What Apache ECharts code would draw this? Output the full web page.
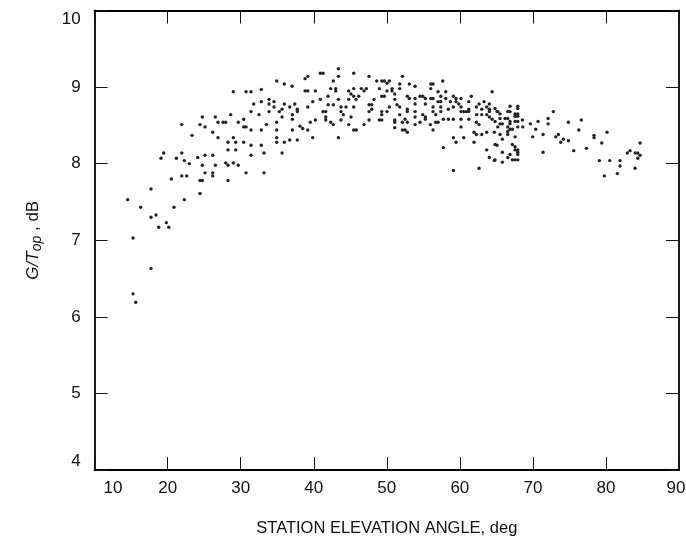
<!DOCTYPE html>
<html>
<head>
<meta charset="utf-8">
<script src="https://cdn.jsdelivr.net/npm/echarts@6/dist/echarts.min.js"></script>
<style>
html,body{margin:0;padding:0;background:#fff;}
#chart{width:686px;height:546px;}
</style>
</head>
<body>
<div id="chart"></div>
<script>
// [station elevation angle (deg), G/Top (dB)]
const band15to25 = [
[21.93,8.51],[23.34,8.37],[19.46,8.14],[21.93,8.14],[19.09,8.07],[21.19,8.07],[22.28,8.04],[22.97,8.00],
[21.93,7.84],[22.61,7.84],[20.50,7.80],[17.72,7.67],[14.53,7.53],[22.28,7.53],[16.31,7.43],[20.87,7.43],
[17.72,7.30],[18.41,7.33],[19.82,7.23],[18.78,7.17],[20.15,7.17],[15.26,7.03],[17.72,6.63],[15.26,6.30],[15.63,6.19]
];
const band24to38 = [
[34.93,9.08],[35.97,9.04],[37.03,9.01],[32.82,8.97],[28.99,8.94],[30.73,8.94],[31.41,8.94],[31.78,8.78],
[32.82,8.81],[33.88,8.84],[34.56,8.81],[33.88,8.78],[35.97,8.78],[36.71,8.74],[37.40,8.78],[34.56,8.74],
[35.66,8.71],[35.29,8.68],[37.75,8.71],[37.75,8.68],[31.41,8.68],[32.51,8.64],[33.88,8.68],[37.07,8.64],
[35.66,8.61],[37.07,8.58],[28.63,8.64],[24.75,8.61],[26.53,8.61],[26.89,8.54],[27.58,8.54],[27.95,8.54],
[29.67,8.54],[30.41,8.58],[34.93,8.54],[24.43,8.51],[25.12,8.48],[30.41,8.48],[30.73,8.48],[31.41,8.44],
[32.82,8.44],[33.51,8.51],[34.93,8.44],[37.07,8.44],[26.17,8.41],[26.89,8.34],[28.99,8.34],[34.93,8.34],
[34.93,8.28],[35.97,8.28],[36.71,8.31],[37.75,8.31],[28.26,8.28],[29.32,8.28],[30.41,8.28],[31.41,8.24],
[32.82,8.24],[28.26,8.18],[29.32,8.18],[33.19,8.14],[35.66,8.14],[31.41,8.11],[24.12,8.08],[25.12,8.11],
[26.17,8.11],[24.75,7.98],[26.53,7.98],[27.95,8.01],[28.26,7.98],[28.99,8.01],[29.67,7.98],[25.12,7.88],
[26.17,7.88],[26.17,7.84],[30.73,7.88],[33.19,7.88],[24.43,7.78],[24.75,7.78],[28.26,7.78],[24.43,7.61]
];
const band38to52 = [
[43.37,9.24],[38.81,9.11],[39.18,9.14],[40.90,9.18],[41.27,9.18],[43.37,9.14],[45.47,9.18],[42.68,9.08],
[47.57,9.14],[48.62,9.08],[49.31,9.08],[49.66,9.08],[50.03,9.05],[50.35,9.08],[51.77,9.04],[52.13,9.14],
[38.81,8.95],[39.18,8.95],[40.22,8.95],[42.32,8.98],[43.01,8.98],[43.01,8.95],[44.79,8.95],[45.47,8.98],
[46.51,8.98],[47.20,8.98],[48.98,8.98],[50.03,8.95],[50.72,8.98],[50.72,8.95],[51.77,8.98],[41.96,8.88],
[40.90,8.84],[39.86,8.81],[43.37,8.84],[44.79,8.84],[45.10,8.91],[45.47,8.88],[45.79,8.84],[46.16,8.88],
[46.88,8.95],[48.25,8.84],[49.31,8.88],[49.66,8.88],[51.09,8.91],[51.09,8.84],[39.18,8.74],[41.96,8.77],
[42.68,8.77],[43.73,8.74],[44.42,8.74],[45.47,8.74],[47.57,8.77],[47.94,8.77],[47.94,8.71],[50.35,8.74],
[51.40,8.77],[51.77,8.74],[41.27,8.68],[41.64,8.68],[43.73,8.68],[44.05,8.64],[49.31,8.68],[49.31,8.64],
[50.03,8.68],[47.57,8.68],[51.77,8.64],[41.64,8.61],[41.64,8.57],[40.22,8.57],[39.53,8.54],[42.68,8.51],
[42.32,8.54],[43.73,8.57],[45.10,8.61],[47.57,8.57],[48.98,8.57],[49.31,8.57],[51.09,8.57],[51.09,8.54],
[51.09,8.47],[52.13,8.54],[38.12,8.49],[38.49,8.46],[39.18,8.44],[44.79,8.51],[45.47,8.44],[45.83,8.44],
[46.88,8.51],[52.13,8.44],[39.86,8.34],[43.37,8.34]
];
const band52to65 = [
[57.66,9.08],[53.09,9.04],[53.87,9.01],[56.02,9.04],[56.33,9.04],[56.02,8.98],[57.02,8.94],[58.07,8.94],
[64.41,8.94],[52.81,8.88],[53.09,8.85],[53.87,8.85],[54.55,8.88],[54.92,8.88],[55.28,8.85],[56.02,8.85],
[56.33,8.85],[57.39,8.88],[57.02,8.81],[57.39,8.81],[58.07,8.85],[59.11,8.88],[59.48,8.85],[59.48,8.81],
[60.16,8.85],[61.57,8.88],[61.22,8.81],[63.31,8.81],[64.04,8.78],[53.87,8.78],[55.28,8.78],[58.70,8.81],
[52.81,8.71],[52.81,8.68],[56.33,8.74],[57.39,8.74],[59.11,8.74],[59.85,8.78],[60.16,8.74],[60.16,8.68],
[60.53,8.68],[60.89,8.68],[61.22,8.68],[61.22,8.71],[62.26,8.74],[62.63,8.78],[63.00,8.71],[63.68,8.74],
[64.04,8.71],[64.04,8.68],[65.09,8.68],[62.31,8.64],[63.00,8.64],[63.68,8.64],[64.04,8.61],[64.41,8.58],
[53.87,8.68],[54.92,8.64],[56.33,8.68],[56.70,8.64],[57.39,8.68],[58.43,8.71],[52.50,8.58],[52.81,8.54],
[53.87,8.61],[54.55,8.54],[55.28,8.58],[55.28,8.61],[55.96,8.51],[56.70,8.54],[57.02,8.54],[57.74,8.58],
[58.43,8.58],[59.11,8.58],[60.16,8.58],[61.22,8.58],[62.26,8.54],[62.63,8.51],[53.87,8.51],[60.16,8.48],
[52.50,8.44],[52.81,8.41],[56.33,8.44],[61.94,8.41],[62.26,8.38],[63.00,8.38],[63.68,8.41],[64.72,8.41],
[59.11,8.34],[60.53,8.34],[59.48,8.28],[61.94,8.28],[65.09,8.24],[57.74,8.21],[63.68,8.18],[64.04,8.08],
[64.72,8.04],[59.11,7.91],[62.63,7.94]
];
const band65to75 = [
[66.87,8.75],[67.93,8.75],[67.93,8.72],[64.82,8.72],[65.19,8.68],[65.50,8.65],[66.56,8.68],[66.87,8.68],
[67.56,8.65],[67.93,8.65],[67.56,8.62],[67.93,8.62],[65.50,8.59],[66.19,8.59],[66.56,8.59],[64.82,8.55],
[65.50,8.52],[65.82,8.52],[66.87,8.55],[66.87,8.52],[67.56,8.55],[67.93,8.55],[65.19,8.48],[66.56,8.48],
[67.93,8.48],[68.61,8.48],[68.56,8.57],[69.65,8.52],[70.71,8.55],[72.08,8.59],[72.08,8.52],[72.80,8.68],
[70.39,8.45],[67.19,8.45],[66.56,8.42],[66.56,8.38],[66.87,8.45],[65.50,8.38],[67.56,8.35],[69.98,8.35],
[71.39,8.38],[73.13,8.35],[73.49,8.38],[73.81,8.28],[74.17,8.32],[65.82,8.32],[64.82,8.25],[67.19,8.25],
[67.56,8.22],[67.56,8.18],[67.93,8.18],[67.93,8.15],[67.93,8.12],[65.82,8.15],[66.87,8.12],[66.56,8.08],
[67.19,8.05],[67.56,8.05],[67.93,8.05],[64.82,8.05],[65.82,8.02],[71.39,8.15]
];
const band75to85 = [
[74.86,8.54],[76.63,8.57],[76.28,8.44],[78.37,8.37],[78.37,8.34],[80.15,8.41],[74.86,8.30],[79.43,8.27],
[75.59,8.17],[77.32,8.20],[79.10,8.04],[80.52,8.04],[81.93,8.04],[81.93,7.97],[81.56,7.87],[79.78,7.84],
[82.93,8.14],[83.30,8.17],[83.99,8.14],[84.36,8.14],[84.67,8.11],[84.36,8.07],[84.67,8.27],[83.99,7.94]
];
const xTicks = [10,20,30,40,50,60,70,80,90];
const yTicks = [4,5,6,7,8,9,10];

const points = [].concat(band15to25, band24to38, band38to52, band52to65, band65to75, band75to85);

const chart = echarts.init(document.getElementById('chart'), null, {renderer:'canvas'});
const FONT = 'Liberation Sans, Arial, sans-serif';
const lineStyle = {color:'#000', width:1.8};
const tickStyle = {color:'#111', width:1};
chart.setOption({
  animation:false,
  backgroundColor:'#fff',
  grid:{left:94.6, right:7, top:10.5, bottom:76, containLabel:false, outerBoundsMode:'none'},
  xAxis:[{
    type:'value', min:xTicks[0], max:xTicks[xTicks.length-1], interval:10, position:'bottom',
    axisLine:{show:true, onZero:false, lineStyle:lineStyle},
    axisTick:{show:true, inside:true, length:13, lineStyle:tickStyle},
    splitLine:{show:false},
    axisLabel:{
      margin:10, fontFamily:FONT, fontSize:17, color:'#111',
      alignMinLabel:'left',
      formatter:function(v){
        if (v === xTicks[0]) return '{m|' + v + '}';
        if (v === xTicks[xTicks.length-1]) return '{r|' + v + '}';
        return String(v);
      },
      rich:{
        m:{fontFamily:FONT, fontSize:17, color:'#111', padding:[0,0,0,9]},
        r:{fontFamily:FONT, fontSize:17, color:'#111', padding:[0,6,0,0]}
      }
    },
    name:'STATION ELEVATION ANGLE, deg', nameLocation:'middle', nameGap:50,
    nameTextStyle:{fontFamily:FONT, fontSize:16.5, color:'#111'}
  },{
    type:'value', min:xTicks[0], max:xTicks[xTicks.length-1], interval:10, position:'top',
    axisLine:{show:true, onZero:false, lineStyle:lineStyle},
    axisTick:{show:true, inside:true, length:13, lineStyle:tickStyle},
    splitLine:{show:false}, axisLabel:{show:false}
  }],
  yAxis:[{
    type:'value', min:yTicks[0], max:yTicks[yTicks.length-1], interval:1, position:'left',
    axisLine:{show:true, onZero:false, lineStyle:lineStyle},
    axisTick:{show:true, inside:true, length:13, lineStyle:tickStyle},
    splitLine:{show:false},
    axisLabel:{margin:14, fontFamily:FONT, fontSize:17, color:'#111',
      verticalAlignMinLabel:'bottom', verticalAlignMaxLabel:'top'},
    name:'{i|G/T}{s|op}{n| , dB}', nameLocation:'middle', nameGap:50, nameRotate:90,
    nameTextStyle:{
      fontFamily:FONT, fontSize:17, color:'#111',
      rich:{
        i:{fontStyle:'italic', fontSize:17, fontFamily:FONT, color:'#111'},
        s:{fontStyle:'italic', fontSize:14, fontFamily:FONT, color:'#111', padding:[8,0,0,0]},
        n:{fontSize:17, fontFamily:FONT, color:'#111'}
      }
    }
  },{
    type:'value', min:yTicks[0], max:yTicks[yTicks.length-1], interval:1, position:'right',
    axisLine:{show:true, onZero:false, lineStyle:lineStyle},
    axisTick:{show:true, inside:true, length:13, lineStyle:tickStyle},
    splitLine:{show:false}, axisLabel:{show:false}
  }],
  series:[{
    type:'scatter', xAxisIndex:0, yAxisIndex:0,
    data:points, symbol:'circle', symbolSize:3.4,
    itemStyle:{color:'#222', opacity:1}
  }]
});
</script>
</body>
</html>
